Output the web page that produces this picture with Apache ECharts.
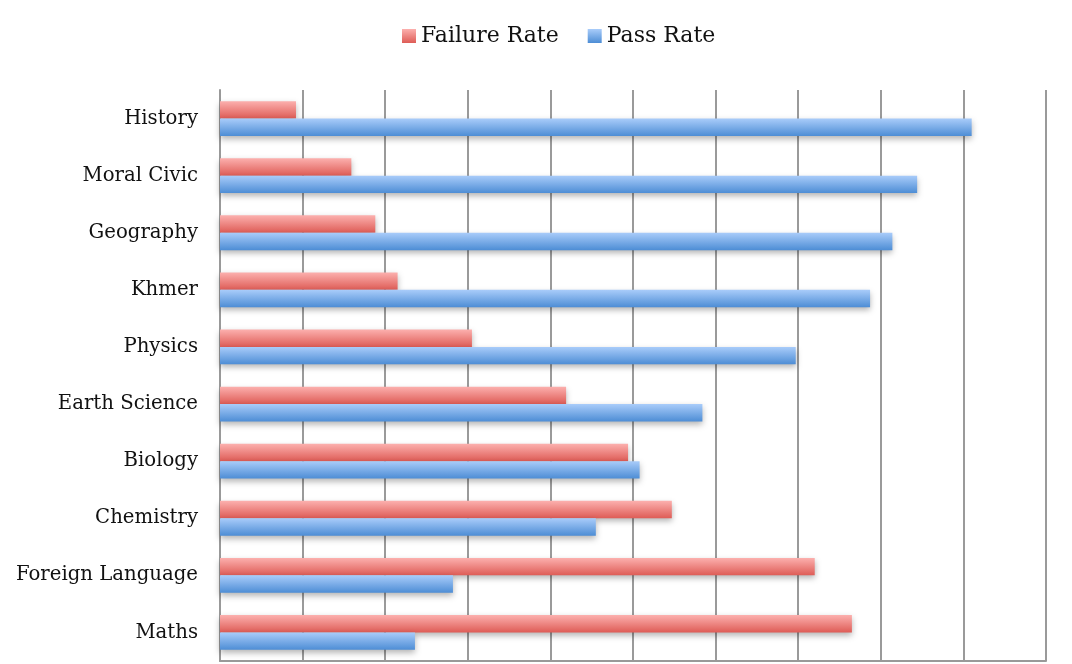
<!DOCTYPE html>
<html><head><meta charset="utf-8">
<script src="https://cdn.jsdelivr.net/npm/echarts@6/dist/echarts.min.js"></script>
<style>html,body{margin:0;padding:0;background:#fff}#c{width:1072px;height:664px}</style>
</head><body><div id="c"></div>
<script>
const categories = ["History","Moral Civic","Geography","Khmer","Physics","Earth Science","Biology","Chemistry","Foreign Language","Maths"];
const failureRate = [9.2,15.9,18.8,21.5,30.5,41.9,49.4,54.7,72.0,76.5];
const passRate = [91.0,84.4,81.4,78.7,69.7,58.4,50.8,45.5,28.2,23.6];
const seriesNames = ["Failure Rate","Pass Rate"];

const grad = (a,b)=>new echarts.graphic.LinearGradient(0,0,0,1,[{offset:0,color:a},{offset:1,color:b}]);
const redG = grad('#fcb0ae','#de5c56');
const blueG = grad('#a9ccfa','#4d8dd5');
const font = '"DejaVu Serif", "Liberation Serif", serif';

const chart = echarts.init(document.getElementById('c'));
chart.setOption({
  animation:false,
  legend:{top:20,left:397,itemWidth:14,itemHeight:14,itemGap:29,
    textStyle:{fontFamily:font,fontSize:22,color:'#111'},
    data:[{name:seriesNames[0],icon:'rect',itemStyle:{color:redG}},{name:seriesNames[1],icon:'rect',itemStyle:{color:blueG}}]},
  grid:{left:220,right:26,top:90,bottom:3},
  xAxis:{type:'value',min:0,max:100,interval:10,
    axisLabel:{show:false},axisTick:{show:false},
    axisLine:{show:true,lineStyle:{color:'#999',width:2}},
    splitLine:{show:true,lineStyle:{color:'#9a9a9a',width:2}}},
  yAxis:{type:'category',data:categories,inverse:true,
    axisTick:{show:false},
    axisLine:{show:true,lineStyle:{color:'#999',width:2}},
    axisLabel:{margin:22,fontFamily:font,fontSize:19.7,color:'#111',padding:[10,0,0,0]}},
  series:[
    {name:seriesNames[0],type:'bar',data:failureRate,barGap:'0%',barCategoryGap:'39%',
      itemStyle:{color:redG,shadowColor:'rgba(0,0,0,0.3)',shadowBlur:6,shadowOffsetY:3}},
    {name:seriesNames[1],type:'bar',data:passRate,barGap:'0%',barCategoryGap:'39%',
      itemStyle:{color:blueG,shadowColor:'rgba(0,0,0,0.3)',shadowBlur:6,shadowOffsetY:3}}
  ]
});
</script></body></html>
